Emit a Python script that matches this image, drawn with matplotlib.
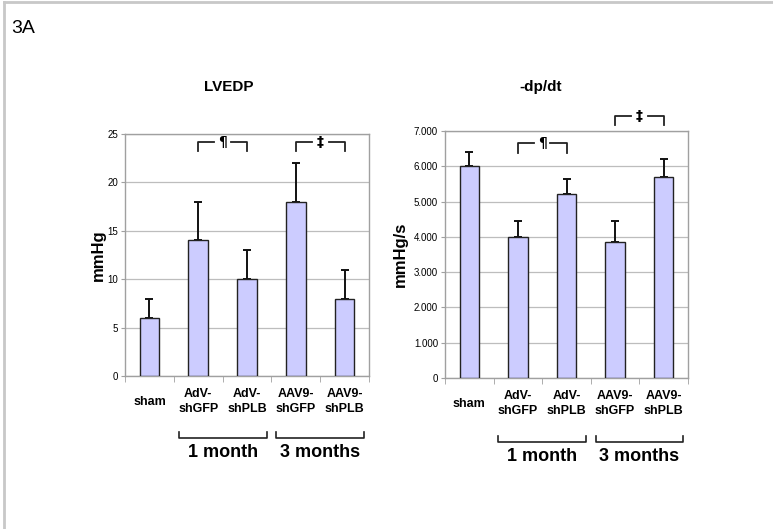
import numpy as np
import matplotlib
matplotlib.use("Agg")
import matplotlib.pyplot as plt
import matplotlib.transforms as mtransforms
from matplotlib.ticker import FuncFormatter

plt.rcParams['font.family'] = ['Liberation Sans', 'DejaVu Sans']

categories = ["sham", "AdV-\nshGFP", "AdV-\nshPLB", "AAV9-\nshGFP", "AAV9-\nshPLB"]
lvedp = [6, 14, 10, 18, 8]
lvedp_err = [2, 4, 3, 4, 3]
dpdt = [6020, 4000, 5210, 3860, 5710]
dpdt_err = [380, 440, 430, 600, 510]
groups = ["1 month", "3 months"]

bar_color = "#CCCCFF"
grid_color = "#BDBDBD"
narrow = ['Liberation Sans Narrow', 'Liberation Sans', 'DejaVu Sans']

fig = plt.figure(figsize=(7.73, 5.29), dpi=100)

# thin grey frame at top and left of the page
fig.add_artist(plt.Line2D([0.005, 0.005], [0, 0.996], color="#C8C8C8", lw=2, transform=fig.transFigure))
fig.add_artist(plt.Line2D([0.005, 1], [0.996, 0.996], color="#C8C8C8", lw=2, transform=fig.transFigure))
fig.text(0.014, 0.946, "3A", fontsize=14, va="center", ha="left", family=narrow)


def draw_panel(rect, vals, errs, ymax, step, ylabel, fmt, title, title_x, lpad):
    ax = fig.add_axes(rect)
    x = np.arange(len(categories))
    ax.bar(x, vals, width=0.4, color=bar_color, edgecolor="#222222", linewidth=1, zorder=3)
    ax.errorbar(x, vals, yerr=[np.zeros(len(vals)), errs], fmt="none", ecolor="#111111",
                elinewidth=1.4, capsize=3, capthick=1.4, zorder=2)
    ax.set_xlim(-0.5, len(categories) - 0.5)
    ax.set_ylim(0, ymax)
    ax.set_yticks(np.arange(0, ymax + step / 2, step))
    ax.yaxis.set_major_formatter(FuncFormatter(fmt))
    ax.grid(axis="y", color=grid_color, lw=0.9, zorder=0)
    ax.set_axisbelow(True)
    for s in ax.spines.values():
        s.set_color("#A0A0A0")
        s.set_linewidth(1)
    ax.set_xticks(x)
    ax.set_xticklabels(categories, fontsize=9, fontweight="bold", linespacing=1.3)
    for lab in ax.get_xticklabels():
        lab.set_va("center")
    ax.tick_params(axis="x", length=0, pad=18.5)
    ax.set_xticks(np.arange(-0.5, len(categories), 1), minor=True)
    ax.tick_params(axis="x", which="minor", length=4, color="#A0A0A0", direction="out")
    ax.tick_params(axis="y", length=3, color="#A0A0A0", labelsize=7, pad=2)
    for lab in ax.get_yticklabels():
        lab.set_family(narrow)
    ax.set_ylabel(ylabel, fontsize=12, fontweight="bold", labelpad=lpad)
    fig.text(title_x, 0.835, title, fontsize=11, fontweight="bold", ha="center", va="center")

    # group brackets below the categories
    tr = mtransforms.blended_transform_factory(ax.transData, ax.transAxes)
    for (a, b), name in zip([(0.6, 2.4), (2.6, 4.4)], groups):
        ax.plot([a, a, b, b], [-0.233, -0.258, -0.258, -0.233], color="#222222", lw=1.2,
                transform=tr, clip_on=False)
        ax.text((a + b) / 2, -0.318, name, fontsize=13, fontweight="bold", ha="center",
                va="center", transform=tr)
    return ax


def sig_bracket(ax, x0, x1, ytop, ydrop, sym):
    mid = (x0 + x1) / 2
    ax.plot([x0, x0, mid - 0.17], [ydrop, ytop, ytop], color="#222222", lw=1.3, clip_on=False)
    ax.plot([mid + 0.17, x1, x1], [ytop, ytop, ydrop], color="#222222", lw=1.3, clip_on=False)
    ax.text(mid, ytop, sym, fontsize=10, fontweight="bold", ha="center", va="center",
            family=['DejaVu Sans'])


ax1 = draw_panel([0.1617, 0.2892, 0.3157, 0.4575], lvedp, lvedp_err, 25, 5, "mmHg",
                 lambda v, p: f"{v:.0f}", "LVEDP", 0.296, 1)
sig_bracket(ax1, 1, 2, 24.2, 23.2, "¶")
sig_bracket(ax1, 3, 4, 24.2, 23.2, "‡")

ax2 = draw_panel([0.5757, 0.2854, 0.3144, 0.467], dpdt, dpdt_err, 7000, 1000, "mmHg/s",
                 lambda v, p: "0" if v == 0 else f"{v:,.0f}".replace(",", "."), "-dp/dt", 0.699, 4)
sig_bracket(ax2, 1, 2, 6660, 6380, "¶")
sig_bracket(ax2, 3, 4, 7425, 7170, "‡")

fig.savefig("out.png", dpi=100)
